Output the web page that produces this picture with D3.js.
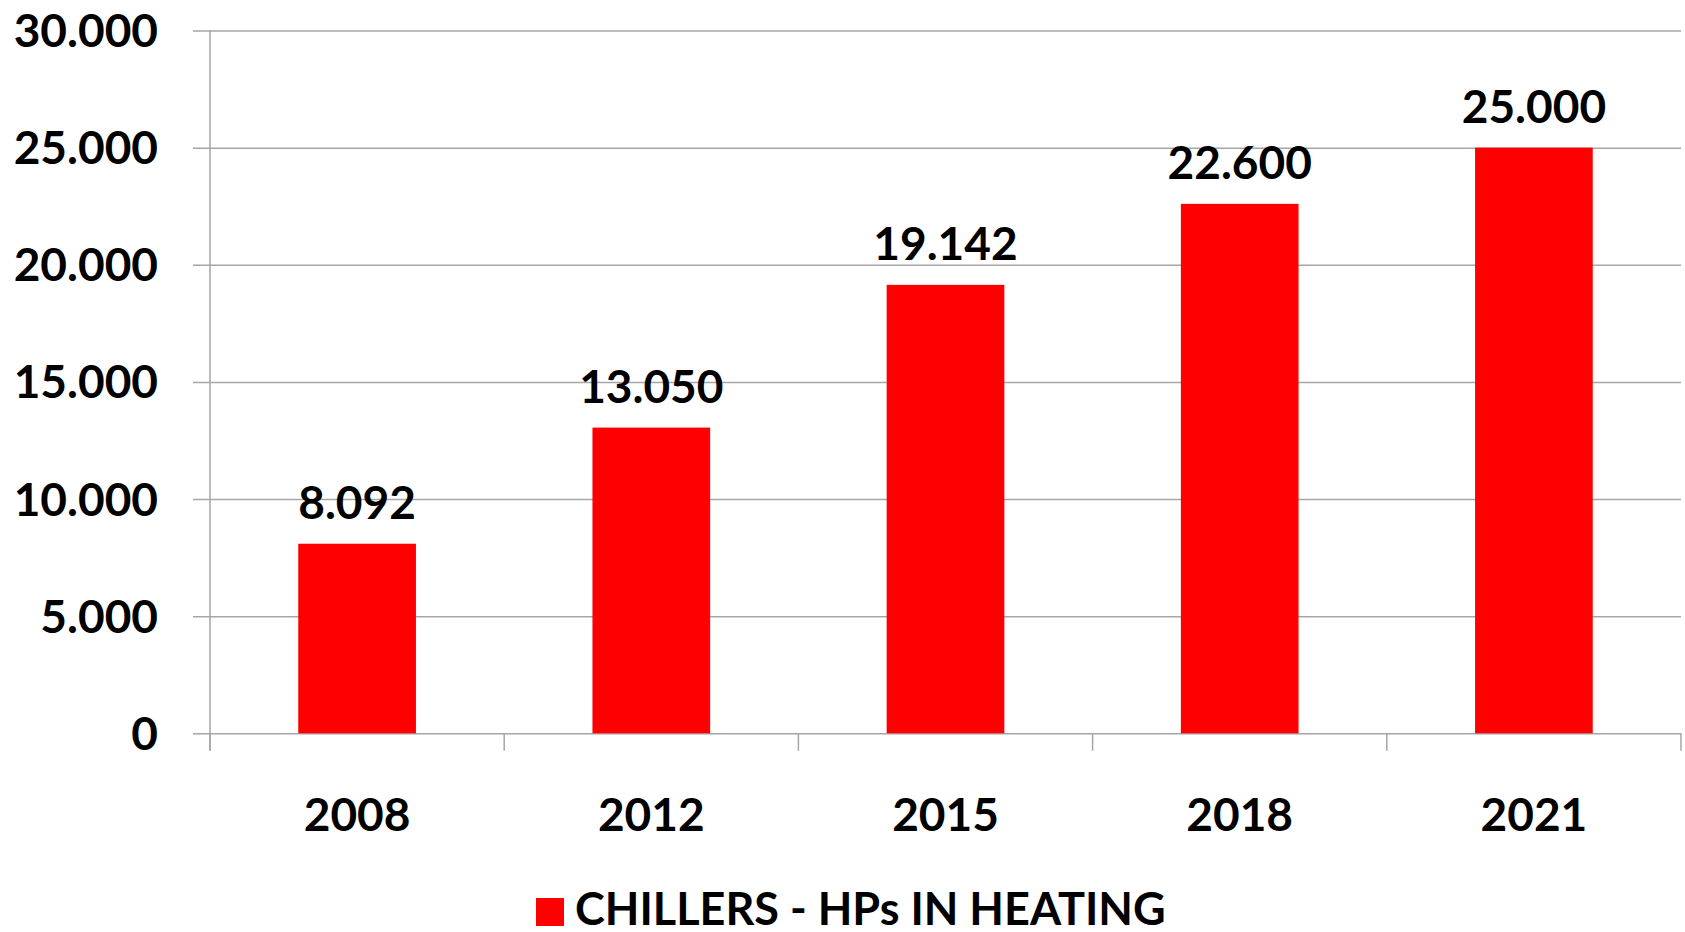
<!DOCTYPE html>
<html>
<head>
<meta charset="utf-8">
<script src="https://cdn.jsdelivr.net/npm/d3@7"></script>
<style>
  html, body { margin: 0; padding: 0; background: #ffffff; }
  svg { display: block; }
  text { font-family: Lato, "Open Sans", sans-serif; font-weight: 700; fill: #000; }
</style>
</head>
<body>
<svg id="chart" width="1685" height="932"></svg>
<script>
// Units installed per year
const years = ["2008", "2012", "2015", "2018", "2021"];
const units = [8092, 13050, 19142, 22600, 25000];
const yTicks = [0, 5000, 10000, 15000, 20000, 25000, 30000];
const seriesName = "CHILLERS - HPs IN HEATING";

const plot = { left: 210, right: 1681, top: 30.5, bottom: 733.3 };
const gridColor = "#a6a6a6";
const barColor = "#ff0000";
const fontSize = 46;

// Dot as thousands separator
const locale = d3.formatLocale({ decimal: ",", thousands: ".", grouping: [3], currency: ["", "€"] });
const fmt = locale.format(",d");

const svg = d3.select("#chart");

const x = d3.scaleBand()
  .domain(years)
  .range([plot.left, plot.right])
  .paddingInner(0.6)
  .paddingOuter(0.3);

const y = d3.scaleLinear()
  .domain([0, 30000])
  .range([plot.bottom, plot.top]);

// Horizontal gridlines (with a short outer tick) and value labels
const yAxis = d3.axisLeft(y)
  .tickValues(yTicks)
  .tickSize(plot.right - plot.left + 17)
  .tickPadding(0)
  .tickFormat(fmt);

const gy = svg.append("g")
  .attr("transform", `translate(${plot.right},0)`)
  .call(yAxis);
gy.attr("font-family", null).attr("font-size", null);
gy.select(".domain").remove();
gy.selectAll(".tick line")
  .attr("stroke", gridColor)
  .attr("stroke-width", 1.5);
gy.selectAll(".tick text")
  .attr("x", 158 - plot.right)
  .attr("dy", null)
  .attr("y", 16)
  .attr("text-anchor", "end")
  .attr("font-size", fontSize)
  .attr("fill", "#000");

// Vertical value-axis line
svg.append("line")
  .attr("x1", plot.left).attr("x2", plot.left)
  .attr("y1", plot.top).attr("y2", plot.bottom + 17.5)
  .attr("stroke", gridColor).attr("stroke-width", 1.5);

// Category boundary ticks below the baseline
const step = x.step();
const firstEdge = x(years[0]) - (step - x.bandwidth()) / 2;
const bounds = d3.range(years.length + 1).map(i => firstEdge + i * step);
svg.append("g").selectAll("line")
  .data(bounds)
  .join("line")
  .attr("x1", d => d).attr("x2", d => d)
  .attr("y1", plot.bottom).attr("y2", plot.bottom + 17.5)
  .attr("stroke", gridColor).attr("stroke-width", 1.5);

// Category labels
svg.append("g").selectAll("text")
  .data(years)
  .join("text")
  .attr("x", d => x(d) + x.bandwidth() / 2)
  .attr("y", 830.7)
  .attr("text-anchor", "middle")
  .attr("font-size", fontSize)
  .text(d => d);

// Bars
const data = years.map((yr, i) => ({ year: yr, value: units[i] }));
svg.append("g").selectAll("rect")
  .data(data)
  .join("rect")
  .attr("x", d => x(d.year))
  .attr("width", x.bandwidth())
  .attr("y", d => y(d.value))
  .attr("height", d => y(0) - y(d.value))
  .attr("fill", barColor);

// Value labels above bars
svg.append("g").selectAll("text")
  .data(data)
  .join("text")
  .attr("x", d => x(d.year) + x.bandwidth() / 2)
  .attr("y", d => y(d.value) - 25)
  .attr("text-anchor", "middle")
  .attr("font-size", fontSize)
  .text(d => fmt(d.value));

// Legend
const legend = svg.append("g");
legend.append("rect")
  .attr("x", 536).attr("y", 898)
  .attr("width", 28).attr("height", 28)
  .attr("fill", barColor);
legend.append("text")
  .attr("x", 575).attr("y", 925)
  .attr("font-size", 45)
  .text(seriesName);
</script>
</body>
</html>
